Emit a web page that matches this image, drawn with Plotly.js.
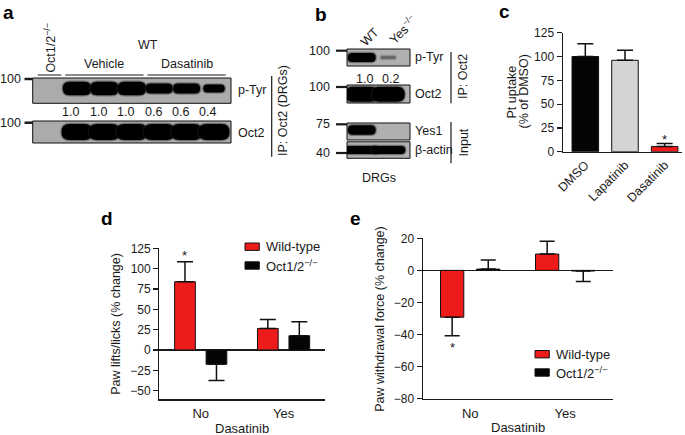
<!DOCTYPE html>
<html><head><meta charset="utf-8">
<script src="https://cdn.plot.ly/plotly-3.0.1.min.js"></script>
<style>html,body{margin:0;padding:0;background:#fff}#chart{width:685px;height:435px}</style>
</head><body><div id="chart"></div>
<script>
// ---------------- data ----------------
const blotA_groups = ['Vehicle', 'Dasatinib'];
const blotA_pTyr = [0, 1.0, 1.0, 1.0, 0.6, 0.6, 0.4];
const blotA_oct2 = [0, 1, 1, 1, 1, 1, 1];
const blotA_mw = [100, 100];
const blotA_rows = ['p-Tyr', 'Oct2'];

const blotB_lanes = ['WT', 'Yes<sup>−/−</sup>'];
const blotB_pTyr = [1.0, 0.2];
const blotB_oct2 = [1, 1];
const blotB_yes1 = [1, 0];
const blotB_actin = [1, 1];
const blotB_mw = [100, 100, 75, 40];
const blotB_rows = ['p-Tyr', 'Oct2', 'Yes1', 'β-actin'];

const cCats = ['DMSO', 'Lapatinib', 'Dasatinib'];
const cMean = [100, 96, 5.5];
const cSem = [13.5, 10.5, 3];

const dCats = ['No', 'Yes'];
const dWT = [84, 26.5];
const dWTsem = [24.5, 11];
const dKO = [-17.6, 17.6];
const dKOsem = [20, 17.2];

const eCats = ['No', 'Yes'];
const eWT = [-29.2, 10.2];
const eWTsem = [11.5, 8];
const eKO = [0.8, -0.4];
const eKOsem = [5.7, 6.6];

const seriesNames = ['Wild-type', 'Oct1/2<sup>−/−</sup>'];

// ---------------- layout helpers ----------------
const W = 685, H = 435;
const PX = v => v / W;
const PY = v => 1 - v / H;
const RED = '#ee1b1b', BLK = '#050505', GRY = '#d4d4d4';
const INK = '#1a1a1a';
const FONT = 'Liberation Sans, Arial, Helvetica, sans-serif';
const F = (s) => ({family: FONT, size: s || 12.5, color: INK});

const plus = (v, s) => v.map((x, i) => x >= 0 ? s[i] : 0);
const minus = (v, s) => v.map((x, i) => x < 0 ? s[i] : 0);
const errStyle = (v, s, w) => ({type: 'data', symmetric: false, array: plus(v, s), arrayminus: minus(v, s),
  color: '#111', thickness: 1.5, width: w});

const shapes = [];
const ann = [];
function txt(text, x, y, opts) {
  ann.push(Object.assign({text, x: PX(x), y: PY(y), xref: 'paper', yref: 'paper', showarrow: false,
    xanchor: 'center', yanchor: 'middle', font: F()}, opts || {}));
}
function laneTxt(text, xref, lane, y, opts) {
  ann.push(Object.assign({text, x: lane, y: PY(y), xref, yref: 'paper', showarrow: false,
    xanchor: 'center', yanchor: 'middle', font: F()}, opts || {}));
}
function line(x0, y0, x1, y1, w, xref) {
  shapes.push({type: 'line', xref: xref || 'paper', yref: 'paper', x0: xref ? x0 : PX(x0), x1: xref ? x1 : PX(x1),
    y0: PY(y0), y1: PY(y1), line: {color: INK, width: w || 1.2}});
}
function box(x0, y0, x1, y1, fill) {
  shapes.push({type: 'rect', xref: 'paper', yref: 'paper', x0: PX(x0), x1: PX(x1), y0: PY(y1), y1: PY(y0),
    fillcolor: fill, line: {color: '#111', width: 1}});
}
function stadium(xc, halfW, yc, h, r) {
  const xl = xc - halfW, xr = xc + halfW;
  const yt = PY(yc - h / 2), yb = PY(yc + h / 2), ym = PY(yc);
  r = Math.min(r, halfW);
  return `M${xl + r},${yt} L${xr - r},${yt} Q${xr},${yt} ${xr},${ym} Q${xr},${yb} ${xr - r},${yb} ` +
         `L${xl + r},${yb} Q${xl},${yb} ${xl},${ym} Q${xl},${yt} ${xl + r},${yt} Z`;
}
function bands(xref, intens, step, yc, h0, w0) {
  intens.forEach((I, k) => {
    if (I <= 0) return;
    const h = h0 * Math.pow(I, 0.6);
    const w = w0 * Math.min(1, I + 0.35);
    const op = Math.min(1, Math.pow(I / 0.35, 2));
    shapes.push({type: 'path', xref, yref: 'paper', path: stadium(k, (w / 2 + 1.2) / step, yc, h + 2.4, (h / 2 + 1.2) / step),
      fillcolor: '#2a2a2a', opacity: 0.45 * op, line: {width: 0}});
    shapes.push({type: 'path', xref, yref: 'paper', path: stadium(k, (w / 2) / step, yc, h, (h / 2) / step),
      fillcolor: '#000', opacity: op, line: {width: 0}});
  });
}

// ---------------- blot a ----------------
const A = {x0: 32.7, x1: 231, lane0: 49.6, step: 27.4};
const aRange = [(A.x0 - A.lane0) / A.step, (A.x1 - A.lane0) / A.step];
const aRows = [{y0: 78, y1: 103.3, yc: 88.5, h: 13.5, w: 28.5, data: blotA_pTyr, ty: 90},
               {y0: 121, y1: 143, yc: 132, h: 16, w: 31, data: blotA_oct2, ty: 133}];
aRows.forEach((r, i) => {
  box(A.x0, r.y0, A.x1, r.y1, '#ababab');
  bands('x4', r.data, A.step, r.yc, r.h, r.w);
  txt(blotA_rows[i], 236.5, r.ty, {xanchor: 'left'});
});
[79, 122.7].forEach((y, i) => { line(24.5, y, 32.7, y, 2.5); txt(String(blotA_mw[i]), 22.5, y, {xanchor: 'right'}); });
blotA_pTyr.slice(1).forEach((v, k) => laneTxt(v.toFixed(1), 'x4', k + 1 - 0.22, 111.7));
[[0, 0], [1, 3], [4, 6]].forEach(g => line(g[0] - 0.43, 75, g[1] + 0.43, 75, 1.2, 'x4'));
blotA_groups.forEach((g, i) => laneTxt(g, 'x4', i === 0 ? 2 : 5, 64));
laneTxt('WT', 'x4', 3.6, 45);
laneTxt('Oct1/2<sup>−/−</sup>', 'x4', 0, 48, {textangle: -90});
line(271.7, 76, 271.7, 156.7, 1.2);
txt('IP: Oct2 (DRGs)', 283, 111, {textangle: -90});

// ---------------- blot b ----------------
const B = {x0: 347, x1: 410, lane0: 361.7, step: 26.6};
const bRange = [(B.x0 - B.lane0) / B.step, (B.x1 - B.lane0) / B.step];
const bRows = [{y0: 49, y1: 66, yc: 57.5, h: 9, w: 28, data: blotB_pTyr, ty: 57, tick: 50.7},
               {y0: 85, y1: 103, yc: 94.3, h: 15, w: 33, data: blotB_oct2, ty: 94, tick: 87},
               {y0: 123, y1: 140, yc: 130, h: 9.5, w: 28, data: blotB_yes1, ty: 131, tick: 124.3},
               {y0: 141.8, y1: 158.3, yc: 150, h: 8, w: 34, data: blotB_actin, ty: 150, tick: 153}];
bRows.forEach((r, i) => {
  box(B.x0, r.y0, B.x1, r.y1, '#b0b0b0');
  bands('x5', r.data, B.step, r.yc, r.h, r.w);
  txt(blotB_rows[i], 412.5, r.ty, {xanchor: 'left'});
  line(336, r.tick, 347, r.tick, 2.2);
  txt(String(blotB_mw[i]), 332, r.tick, {xanchor: 'right'});
});
blotB_pTyr.forEach((v, k) => laneTxt(v.toFixed(1), 'x5', k + 0.1, 78.7));
blotB_lanes.forEach((l, k) => laneTxt(l, 'x5', k + 0.31 + 0.24 * k, 37 - 8 * k, {textangle: -45}));
line(451, 52, 451, 103.3, 1.2);
txt('IP: Oct2', 463, 77, {textangle: -90});
line(451, 122, 451, 163.3, 1.2);
txt('Input', 463, 142.5, {textangle: -90});
txt('DRGs', 379, 178);

// ---------------- panel labels ----------------
const PL = {family: FONT, size: 19, color: '#000', weight: 'bold'};
[['a', 0.5, 12.6], ['b', 313, 15], ['c', 497, 11.8], ['d', 99, 218.4], ['e', 348, 218.4]].forEach(p =>
  txt('<b>' + p[0] + '</b>', p[1], p[2], {xanchor: 'left', font: PL}));

// ---------------- axis titles ----------------
txt('Pt uptake', 511.5, 92, {textangle: -90});
txt('(% of DMSO)', 523.5, 92, {textangle: -90});
txt('Paw lifts/licks (% change)', 116, 323.8, {textangle: -90});
txt('Dasatinib', 242, 428.3, {font: F(13)});
txt('Paw withdrawal force (% change)', 379.3, 318.5, {textangle: -90});
txt('Dasatinib', 518, 427.5, {font: F(13)});

// ---------------- legends (manual) ----------------
function legend(x, ys) {
  [RED, BLK].forEach((c, i) => {
    shapes.push({type: 'rect', xref: 'paper', yref: 'paper', x0: PX(x), x1: PX(x + 14.3), y0: PY(ys[i] + 3.7), y1: PY(ys[i] - 3.7),
      fillcolor: c, line: {color: '#111', width: 1}});
    txt(seriesNames[i], x + 18.5, ys[i], {xanchor: 'left', font: F(13)});
  });
}
legend(245, [246.7, 265.5]);
legend(535, [354.2, 372.5]);

// ---------------- stars ----------------
const starAnn = (x, y, xr, yr) => ann.push({text: '*', x, y, xref: xr, yref: yr, showarrow: false,
  xanchor: 'center', yanchor: 'middle', font: F(13)});
starAnn(2, cMean[2] + cSem[2] + 4.8, 'x', 'y');
starAnn(-0.19, dWT[0] + dWTsem[0] + 8.2, 'x2', 'y2');
starAnn(-0.19, eWT[0] - eWTsem[0] - 7.1, 'x3', 'y3');

// ---------------- traces ----------------
const OUT = {color: '#111', width: 1};
const traces = [
  {type: 'bar', x: [0, 1, 2], y: cMean, width: 0.67, xaxis: 'x', yaxis: 'y',
   marker: {color: [BLK, GRY, RED], line: OUT}, error_y: errStyle(cMean, cSem, 8)},
  {type: 'bar', name: seriesNames[0], x: [0, 1], y: dWT, width: 0.25, offset: -0.315, xaxis: 'x2', yaxis: 'y2',
   marker: {color: RED, line: OUT}, error_y: errStyle(dWT, dWTsem, 8)},
  {type: 'bar', name: seriesNames[1], x: [0, 1], y: dKO, width: 0.25, offset: 0.065, xaxis: 'x2', yaxis: 'y2',
   marker: {color: BLK, line: OUT}, error_y: errStyle(dKO, dKOsem, 8)},
  {type: 'bar', name: seriesNames[0], x: [0, 1], y: eWT, width: 0.245, offset: -0.3125, xaxis: 'x3', yaxis: 'y3',
   marker: {color: RED, line: OUT}, error_y: errStyle(eWT, eWTsem, 7.5)},
  {type: 'bar', name: seriesNames[1], x: [0, 1], y: eKO, width: 0.245, offset: 0.0675, xaxis: 'x3', yaxis: 'y3',
   marker: {color: BLK, line: OUT}, error_y: errStyle(eKO, eKOsem, 7.5)},
  {type: 'scatter', x: [], y: [], xaxis: 'x4', yaxis: 'y4', hoverinfo: 'skip'},
  {type: 'scatter', x: [], y: [], xaxis: 'x5', yaxis: 'y5', hoverinfo: 'skip'}
];

const baseAx = {showgrid: false, zeroline: false, showline: true, linecolor: INK, linewidth: 1.2,
  tickcolor: INK, tickwidth: 1.2, fixedrange: true, tickfont: F(12)};
const yAx = Object.assign({}, baseAx, {ticks: 'outside', ticklen: 5});
const xAx = Object.assign({}, baseAx, {ticks: '', tickfont: F(13)});

const layout = {
  width: W, height: H, margin: {l: 0, r: 0, t: 0, b: 0}, paper_bgcolor: '#fff', plot_bgcolor: 'rgba(0,0,0,0)',
  showlegend: false, barmode: 'overlay', font: {family: FONT, color: INK},
  xaxis: Object.assign({}, xAx, {domain: [PX(562.7), PX(681.7)], range: [-0.57, 2.43], anchor: 'y',
    tickvals: [0, 1, 2], ticktext: cCats, tickangle: -45, tickfont: F(12.5)}),
  yaxis: Object.assign({}, yAx, {domain: [PY(151.7), PY(32.7)], range: [0, 125], dtick: 25, tick0: 0, anchor: 'x'}),
  xaxis2: Object.assign({}, xAx, {domain: [PX(159.3), PX(325)], range: [-0.5, 1.5], anchor: 'y2',
    tickvals: [0, 1], ticktext: dCats, ticklabelstandoff: 2}),
  yaxis2: Object.assign({}, yAx, {domain: [PY(399.3), PY(248.3)], range: [-60.6, 125],
    tickvals: [-50, -25, 0, 25, 50, 75, 100, 125], anchor: 'x2',
    zeroline: true, zerolinecolor: INK, zerolinewidth: 1.2}),
  xaxis3: Object.assign({}, xAx, {domain: [PX(422.7), PX(612.7)], range: [-0.5, 1.5], anchor: 'y3',
    tickvals: [0, 1], ticktext: eCats, ticklabelstandoff: 2}),
  yaxis3: Object.assign({}, yAx, {domain: [PY(398.7), PY(238.3)], range: [-80, 20], dtick: 20, tick0: 0, anchor: 'x3',
    zeroline: true, zerolinecolor: INK, zerolinewidth: 1.2}),
  xaxis4: {domain: [PX(A.x0), PX(A.x1)], range: aRange, visible: false, anchor: 'y4', fixedrange: true},
  yaxis4: {domain: [PY(160), PY(70)], range: [0, 1], visible: false, anchor: 'x4', fixedrange: true},
  xaxis5: {domain: [PX(B.x0), PX(B.x1)], range: bRange, visible: false, anchor: 'y5', fixedrange: true},
  yaxis5: {domain: [PY(165), PY(45)], range: [0, 1], visible: false, anchor: 'x5', fixedrange: true},
  shapes: shapes,
  annotations: ann
};

Plotly.newPlot('chart', traces, layout, {displayModeBar: false, staticPlot: true});
</script>
</body></html>
